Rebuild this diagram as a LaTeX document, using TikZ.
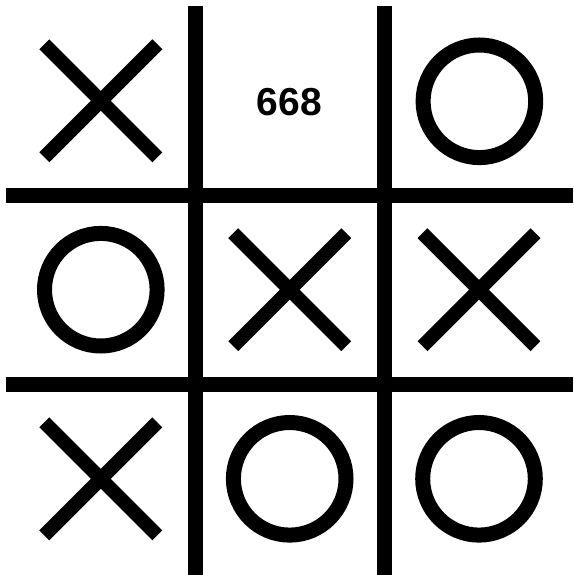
\documentclass[tikz,border=0pt]{standalone}
\usepackage{fontspec}
\setmainfont{Liberation Sans}
\begin{document}
\begin{tikzpicture}[x=1pt,y=-1pt,
  gridline/.style={line width=15pt,line cap=butt},
  xmark/.style={line width=14pt,line cap=butt},
  omark/.style={line width=15pt},
  label/.style={font=\bfseries\fontsize{39}{39}\selectfont,inner sep=0pt}]
\useasboundingbox[fill=white] (0,0) rectangle (573,575);
% grid
\draw[gridline] (195.5,6.5) -- (195.5,575);
\draw[gridline] (384.5,6.5) -- (384.5,575);
\draw[gridline] (6,195.5) -- (573,195.5);
\draw[gridline] (6,384.5) -- (573,384.5);
% X marks
\foreach \cx/\cy in {100.8/100.8, 289.7/289.7, 479/289.7, 100.8/478.8}{
  \draw[xmark] (\cx-56.5,\cy-56.5) -- (\cx+56.5,\cy+56.5);
  \draw[xmark] (\cx+56.5,\cy-56.5) -- (\cx-56.5,\cy+56.5);
}
% O marks
\foreach \cx/\cy in {479.4/101.3, 100.8/289.7, 289.7/478.8, 479/478.8}{
  \draw[omark] (\cx,\cy) circle[radius=56.3];
}
% text
\node[label] (num) at (289.5,102) {668};
\end{tikzpicture}
\end{document}
